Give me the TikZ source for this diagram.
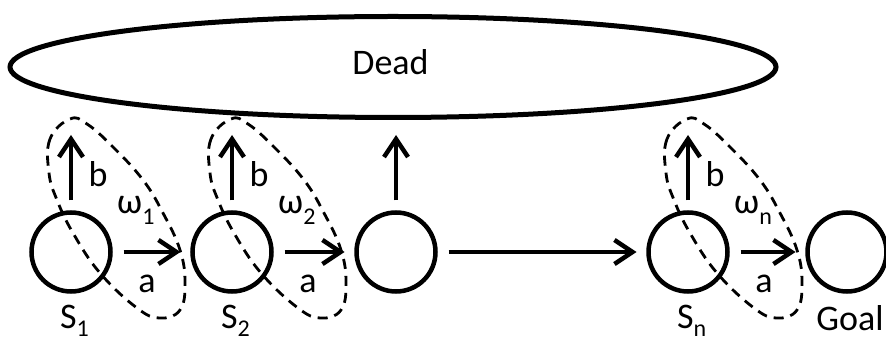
\documentclass[tikz,border=0pt]{standalone}
\usepackage{fontspec}
\setmainfont{Carlito}
\usetikzlibrary{arrows.meta,calc}
\newcommand{\lowsub}[2][11pt]{\raisebox{-#1}{\fontsize{24}{24}\selectfont #2}}
\begin{document}
\begin{tikzpicture}[x=1pt,y=1pt,
  state/.style={circle,draw,line width=4.5pt,minimum size=79pt,inner sep=0pt,outer sep=0pt},
  arr/.style={line width=4.5pt,-{Straight Barb[length=18pt,width=24pt]},shorten <=13pt,shorten >=12pt},
  uparr/.style={line width=4.5pt,-{Straight Barb[length=18pt,width=24pt]},shorten <=12pt},
  grp/.style={line width=2.8pt,dash pattern=on 10pt off 7pt},
  lbl/.style={font=\fontsize{36}{40}\selectfont,inner sep=0pt,anchor=base}
]
\useasboundingbox (0,0) rectangle (886,345);
\fill[white] (0,0) rectangle (886,345);

\draw[line width=5pt] (393,278) ellipse [x radius=383, y radius=50.5];
\node[lbl] (dead) at (390.5,270) {Dead};

\node[state] (s1) at (71,93) {};
\node[state] (s2) at (232,93) {};
\node[state] (s3) at (396,93) {};
\node[state] (sn) at (688,93) {};
\node[state] (goal) at (847,93) {};

\foreach \s in {s1,s2,s3,sn}{
  \coordinate (\s top) at ($(\s)+(0,117)$);
  \draw[uparr] (\s.north) -- (\s top);
}
\draw[arr] (s1) -- (s2);
\draw[arr] (s2) -- (s3);
\draw[arr] (s3) -- (sn);
\draw[arr] (sn) -- (goal);

\foreach \s/\i in {s1/1,s2/2,sn/n}{
  \draw[grp] plot[smooth cycle,tension=0.7] coordinates {
    ($(\s)+(-1,133)$) ($(\s)+(-21,113)$) ($(\s)+(-22,79)$) ($(\s)+(-14,52)$)
    ($(\s)+(2,19)$) ($(\s)+(29,-21)$) ($(\s)+(66,-56)$) ($(\s)+(89,-66)$)
    ($(\s)+(109,-58)$) ($(\s)+(114,-31)$) ($(\s)+(109,2)$) ($(\s)+(92,39)$)
    ($(\s)+(72,72)$) ($(\s)+(42,105)$) ($(\s)+(16,128)$)};
  \node[lbl] (b\s) at ($(\s)+(27,65)$) {b};
  \node[lbl] (a\s) at ($(\s)+(76,-41)$) {a};
  \node[lbl,anchor=base west] (w\s) at ($(\s)+(46,38)$) {ω\lowsub{\i}};
  \node[lbl,anchor=base west] (l\s) at ($(\s)+(-11,16)-(0,93)$) {S\lowsub[8pt]{\i}};
}
\node[lbl] (lgoal) at (850,14) {Goal};
\end{tikzpicture}
\end{document}
